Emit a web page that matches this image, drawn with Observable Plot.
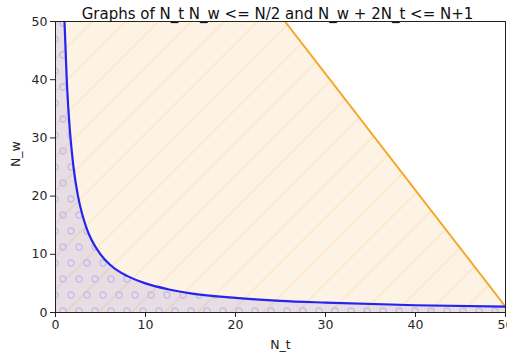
<!DOCTYPE html>
<html><head><meta charset="utf-8">
<script src="https://cdn.jsdelivr.net/npm/d3@7"></script>
<script src="https://cdn.jsdelivr.net/npm/@observablehq/plot@0.6"></script>
<style>body{margin:0;background:#fff} svg{display:block}</style>
</head><body><div id="chart"></div>
<script>
const titleText = "Graphs of N_t N_w <= N/2 and N_w + 2N_t <= N+1";
const xLabel = "N_t";
const yLabel = "N_w";
// hyperbola N_t * N_w = 50
const curveNt = [1, 1.25, 1.5, 2, 2.5, 3, 3.5, 4, 5, 6, 7, 8, 10, 12.5, 15, 20, 25, 30, 40, 50];
const curveNw = [50, 40, 33.3, 25, 20, 16.7, 14.3, 12.5, 10, 8.3, 7.1, 6.25, 5, 4, 3.3, 2.5, 2, 1.7, 1.25, 1];
// straight line N_w + 2 N_t = 101
const lineNt = [25.5, 50];
const lineNw = [50, 1];
// feasible region under the line
const regionNt = [0, 25.5, 50];
const regionNw = [50, 50, 1];
// region under the hyperbola
const lowerNt = [0, ...curveNt];
const lowerNw = [50, ...curveNw];
const tickValues = [0, 10, 20, 30, 40, 50];

const line = lineNt.map((x, i) => ({x, y: lineNw[i]}));
const region = regionNt.map((x, i) => ({x, y: regionNw[i]}));
const curve = curveNt.map((x, i) => ({x, y: curveNw[i]}));
const lower = lowerNt.map((x, i) => ({x, y: lowerNw[i]}));

const font = "DejaVu Sans, sans-serif";
const plot = Plot.plot({
  width: 507, height: 364,
  marginTop: 21, marginRight: 2, marginBottom: 52, marginLeft: 55,
  style: {fontFamily: font, fontSize: "12px", color: "#262626", background: "#fff"},
  x: {domain: [0, 50], label: null},
  y: {domain: [0, 50], label: null},
  marks: [
    Plot.areaY(region, {x: "x", y: "y", fill: "#fdf3e5", clip: true}),
    Plot.areaY(region, {x: "x", y: "y", fill: "url(#hatchO)", clip: true}),
    Plot.areaY(lower, {x: "x", y: "y", fill: "#7a70d8", fillOpacity: 0.17, curve: "monotone-x", clip: true}),
    Plot.areaY(lower, {x: "x", y: "y", fill: "url(#hatchC)", curve: "monotone-x", clip: true}),
    Plot.line(line, {x: "x", y: "y", stroke: "#f5a623", strokeWidth: 2, clip: true}),
    Plot.line(curve, {x: "x", y: "y", stroke: "#2424ee", strokeWidth: 2.2, curve: "monotone-x", clip: true}),
    Plot.frame({stroke: "#222", strokeWidth: 1}),
    Plot.axisX({ticks: tickValues, tickSize: 5, tickPadding: 3, fontSize: 12.5, label: null, stroke: "#222"}),
    Plot.axisY({ticks: tickValues, tickSize: 5, tickPadding: 3, fontSize: 12.5, label: null, stroke: "#222"}),
    Plot.text([titleText], {frameAnchor: "top", dy: -13, dx: -3, fontSize: 15, fill: "#111"}),
    Plot.text([xLabel], {frameAnchor: "bottom", dy: 36, fontSize: 12.5, fill: "#222"}),
    Plot.text([yLabel], {frameAnchor: "left", dx: -40, rotate: -90, fontSize: 12.5, fill: "#222"})
  ]
});

const svg = d3.select(plot);
const defs = svg.insert("defs", ":first-child");
const pO = defs.append("pattern").attr("id", "hatchO").attr("patternUnits", "userSpaceOnUse")
  .attr("x", 15).attr("y", 0).attr("width", 33).attr("height", 33);
pO.append("path").attr("d", "M-4,37 L37,-4 M-4,4 L4,-4 M29,37 L37,29")
  .attr("stroke", "#fce9cf").attr("stroke-width", 2).attr("fill", "none");
const pC = defs.append("pattern").attr("id", "hatchC").attr("patternUnits", "userSpaceOnUse")
  .attr("x", 11).attr("y", 19).attr("width", 16).attr("height", 32);
pC.append("circle").attr("cx", 4).attr("cy", 4).attr("r", 3)
  .attr("stroke", "#c6bfe6").attr("stroke-width", 1.4).attr("fill", "none");
pC.append("circle").attr("cx", 12).attr("cy", 20).attr("r", 3)
  .attr("stroke", "#c6bfe6").attr("stroke-width", 1.4).attr("fill", "none");

document.getElementById("chart").appendChild(plot);
</script>
</body></html>
